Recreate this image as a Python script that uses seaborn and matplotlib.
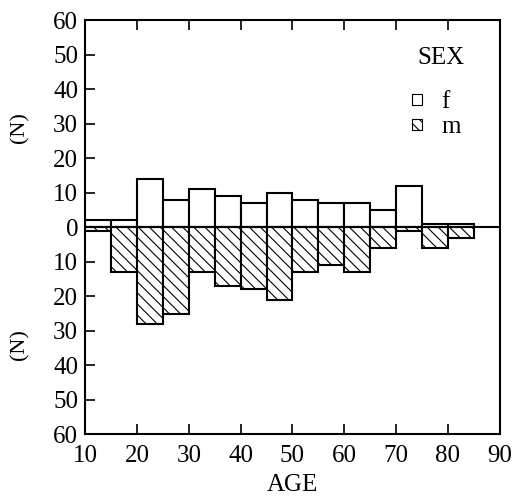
import numpy as np
import pandas as pd
import seaborn as sns
import matplotlib
matplotlib.use("Agg")
import matplotlib.pyplot as plt
from matplotlib.patches import Patch

# bin start (age) and counts per 5-year bin
age_bins = [10, 15, 20, 25, 30, 35, 40, 45, 50, 55, 60, 65, 70, 75, 80]
female = [2, 2, 14, 8, 11, 9, 7, 10, 8, 7, 7, 5, 12, 1, 1]
male = [1, 13, 28, 25, 13, 17, 18, 21, 13, 11, 13, 6, 1, 6, 3]
yticks = [-60, -50, -40, -30, -20, -10, 0, 10, 20, 30, 40, 50, 60]
xticks = [10, 20, 30, 40, 50, 60, 70, 80, 90]

sns.set_style("ticks")
plt.rcParams["font.family"] = ["Liberation Serif", "DejaVu Serif"]
plt.rcParams["text.color"] = "black"
plt.rcParams["xtick.color"] = "black"
plt.rcParams["ytick.color"] = "black"
plt.rcParams["axes.labelcolor"] = "black"
plt.rcParams["hatch.color"] = "#555555"
plt.rcParams["hatch.linewidth"] = 0.8

df = pd.DataFrame({"age": age_bins, "f": female, "m": male})
df["m_neg"] = -df["m"]

fig = plt.figure(figsize=(5.19, 5.01), dpi=100)
ax = fig.add_axes([0.164, 0.133, 0.799, 0.827])

sns.histplot(data=df, x="age", weights="f", binwidth=5, binrange=(10, 85),
             ax=ax, color="white", edgecolor="black", linewidth=1.5, alpha=1)
sns.histplot(data=df, x="age", weights="m_neg", binwidth=5, binrange=(10, 85),
             ax=ax, color="white", edgecolor="black", linewidth=1.5, alpha=1,
             hatch="\\\\\\")
ax.axhline(0, color="black", lw=1.5)

ax.set_xlim(10, 90)
ax.set_ylim(-60, 60)
ax.set_xticks(xticks)
ax.set_yticks(yticks)
ax.set_yticklabels([str(abs(v)) for v in yticks])
ax.tick_params(direction="in", length=7, width=1.2, labelsize=18,
               top=True, right=False)
ax.tick_params(axis="y", pad=5)
ax.tick_params(axis="x", pad=8)
for s in ax.spines.values():
    s.set_linewidth(1.5)
    s.set_color("black")
    s.set_visible(True)
ax.set_xlabel("AGE", fontsize=18, labelpad=5)
ax.set_ylabel("")
ax.text(-0.157, 0.74, "(N)", transform=ax.transAxes, rotation=90,
        ha="center", va="center", fontsize=16)
ax.text(-0.157, 0.217, "(N)", transform=ax.transAxes, rotation=90,
        ha="center", va="center", fontsize=16)

ax.text(0.858, 0.908, "SEX", transform=ax.transAxes, ha="center",
        va="center", fontsize=18)
handles = [Patch(facecolor="white", edgecolor="black", lw=0.8, label="f"),
           Patch(facecolor="white", edgecolor="black", lw=0.8,
                 hatch="\\\\\\", label="m")]
leg = ax.legend(handles=handles, loc="upper left",
                bbox_to_anchor=(0.788, 0.828), frameon=False, fontsize=18,
                handlelength=0.42, handleheight=0.3, borderpad=0,
                borderaxespad=0, handletextpad=0.75, labelspacing=0.12)

fig.savefig("out.png", dpi=100)
